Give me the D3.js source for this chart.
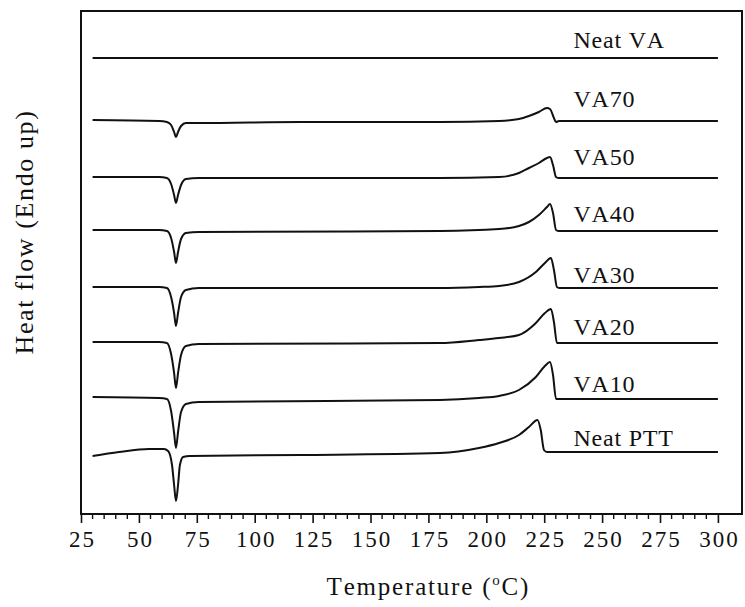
<!DOCTYPE html>
<html>
<head>
<meta charset="utf-8">
<script src="https://cdn.jsdelivr.net/npm/d3@7"></script>
<style>
  body { margin: 0; background: #fff; }
  svg text { font-family: "Liberation Serif", "Times New Roman", serif; fill: #111; font-kerning: none; }
</style>
</head>
<body>
<svg id="chart" width="745" height="607"></svg>
<script>
// ========= Data (heat flow in arbitrary units) =========
const seriesNames = ['Neat VA', 'VA70', 'VA50', 'VA40', 'VA30', 'VA20', 'VA10', 'Neat PTT'];

const neatVA = [[30, 45.6], [120, 45.6], [200, 45.6], [300, 45.6]];

const va70 = [[30, 39.4], [58.7, 39.3], [62.1, 39.2], [63.9, 38.9], [65.2, 38.2], [66.0, 37.7],
  [66.9, 38.2], [68.2, 38.8], [70.3, 39.1], [75.9, 39.1], [120, 39.2], [180, 39.2],
  [205.5, 39.3], [214.1, 39.5], [218.4, 39.8], [222.7, 40.2], [226.2, 40.6], [227.5, 40.5],
  [229.2, 39.6], [230.1, 39.2], [231.4, 39.3], [300, 39.3]];

const va50 = [[30, 33.7], [58.7, 33.7], [62.1, 33.6], [63.9, 33.0], [65.2, 31.9], [66.0, 31.1],
  [66.9, 31.9], [68.2, 32.9], [70.3, 33.5], [75.9, 33.6], [180, 33.6], [205.5, 33.7],
  [214.1, 34.1], [218.4, 34.6], [222.7, 35.1], [226.2, 35.6], [227.5, 35.7], [228.8, 34.9],
  [230.1, 33.7], [231.4, 33.6], [300, 33.6]];

const va40 = [[30, 28.4], [58.7, 28.4], [62.1, 28.3], [63.9, 27.6], [65.2, 26.2], [66.0, 25.1],
  [66.9, 26.2], [68.2, 27.5], [70.3, 28.1], [75.9, 28.2], [180, 28.3], [205.5, 28.5],
  [214.1, 28.8], [218.4, 29.2], [222.7, 29.9], [226.2, 30.7], [227.5, 31.0], [228.8, 30.1],
  [230.1, 28.4], [231.4, 28.3], [300, 28.3]];

const va30 = [[30, 22.7], [58.7, 22.7], [62.1, 22.6], [63.9, 21.7], [65.2, 20.1], [66.0, 18.8],
  [66.9, 20.1], [68.2, 21.7], [70.3, 22.4], [75.9, 22.6], [180, 22.6], [196.8, 22.7],
  [205.5, 22.8], [214.1, 23.2], [221.4, 24.2], [225.3, 25.1], [227.9, 25.6], [229.2, 24.4],
  [230.5, 22.7], [231.8, 22.6], [300, 22.6]];

const va20 = [[30, 17.2], [58.7, 17.2], [62.1, 17.1], [63.9, 16.0], [65.2, 14.1], [66.0, 12.6],
  [66.9, 14.1], [68.2, 15.9], [70.3, 16.8], [75.9, 17.0], [180, 17.1], [196.8, 17.4],
  [205.5, 17.6], [214.1, 17.9], [221.4, 19.1], [225.3, 20.1], [227.9, 20.5], [229.2, 19.2],
  [230.5, 17.1], [231.8, 17.1], [300, 17.1]];

const va10 = [[30, 11.7], [58.7, 11.6], [62.1, 11.5], [63.9, 10.3], [65.2, 8.1], [66.0, 6.6],
  [66.9, 8.2], [68.2, 10.2], [70.3, 11.0], [75.9, 11.2], [180, 11.4], [196.8, 11.6],
  [205.5, 11.8], [214.1, 12.4], [221.4, 13.7], [225.3, 14.8], [227.5, 15.2], [228.8, 13.9],
  [230.1, 11.5], [231.4, 11.5], [300, 11.5]];

const neatPTT = [[30, 5.8], [41.4, 6.2], [54.4, 6.5], [60.8, 6.5], [62.6, 6.3], [64.3, 4.9],
  [65.2, 2.9], [66.0, 1.3], [66.9, 2.9], [67.7, 4.9], [69.1, 5.7], [72, 5.8], [120, 5.9],
  [180, 6.1], [196.8, 6.6], [205.5, 7.1], [214.1, 7.9], [218.4, 8.7], [222.1, 9.4],
  [223.5, 8.4], [224.9, 6.4], [226.2, 6.2], [300, 6.2]];

const seriesValues = [neatVA, va70, va50, va40, va30, va20, va10, neatPTT];

const xTickValues = [25, 50, 75, 100, 125, 150, 175, 200, 225, 250, 275, 300];

// ========= Layout =========
const svg = d3.select('#chart');
const margin = {top: 11, right: 3, bottom: 93, left: 81};
const width = 745 - margin.left - margin.right;
const height = 607 - margin.top - margin.bottom;

const x = d3.scaleLinear().domain([25, 310.4]).range([0, width]);
const y = d3.scaleLinear().domain([0, 50.3]).range([height, 0]);

const g = svg.append('g').attr('transform', `translate(${margin.left},${margin.top})`);

// ========= Curves =========
const line = d3.line()
  .x(d => x(d[0]))
  .y(d => y(d[1]))
  .curve(d3.curveMonotoneX);

g.selectAll('.curve')
  .data(seriesValues)
  .enter()
  .append('path')
  .attr('class', 'curve')
  .attr('d', line)
  .attr('fill', 'none')
  .attr('stroke', '#111')
  .attr('stroke-width', 2)
  .attr('stroke-linejoin', 'round');

// labels sit just above the right-hand baseline of each curve
const labelGap = [10, 14, 13, 9, 5, 8, 7, 6];
g.selectAll('.series-label')
  .data(seriesNames)
  .enter()
  .append('text')
  .attr('class', 'series-label')
  .attr('x', x(237.6))
  .attr('y', (d, i) => y(seriesValues[i][seriesValues[i].length - 1][1]) - labelGap[i])
  .attr('font-size', 24)
  .attr('letter-spacing', 0.8)
  .text(d => d);

// ========= Axes =========
const xAxis = g.append('g')
  .attr('transform', `translate(0,${height})`)
  .call(d3.axisBottom(x).tickValues(xTickValues).tickSize(9).tickPadding(8).tickFormat(d3.format('d')));
xAxis.select('.domain').remove();
xAxis.selectAll('.tick line').attr('stroke', '#111').attr('stroke-width', 1.6);
xAxis.selectAll('.tick text')
  .attr('font-size', 23)
  .attr('letter-spacing', 2)
  .attr('dx', 1)
  .attr('font-family', '"Liberation Serif", serif')
  .attr('fill', '#111');

const minorTicks = d3.range(30, 301, 5).filter(t => t % 25 !== 0);
g.append('g')
  .attr('transform', `translate(0,${height})`)
  .selectAll('line')
  .data(minorTicks)
  .enter()
  .append('line')
  .attr('x1', d => x(d))
  .attr('x2', d => x(d))
  .attr('y1', 0)
  .attr('y2', 5)
  .attr('stroke', '#111')
  .attr('stroke-width', 1.4);

// frame
g.append('rect')
  .attr('width', width)
  .attr('height', height)
  .attr('fill', 'none')
  .attr('stroke', '#111')
  .attr('stroke-width', 2);

// ========= Titles =========
const xTitle = svg.append('text')
  .attr('x', margin.left + x(175))
  .attr('y', 595)
  .attr('text-anchor', 'middle')
  .attr('font-size', 25)
  .attr('letter-spacing', 1.8);
xTitle.append('tspan').text('Temperature (');
xTitle.append('tspan').attr('font-size', 15).attr('dy', -10).text('o');
xTitle.append('tspan').attr('dy', 10).text('C)');

svg.append('text')
  .attr('transform', 'translate(33,232) rotate(-90)')
  .attr('text-anchor', 'middle')
  .attr('font-size', 26)
  .attr('letter-spacing', 1.6)
  .text('Heat flow (Endo up)');
</script>
</body>
</html>
